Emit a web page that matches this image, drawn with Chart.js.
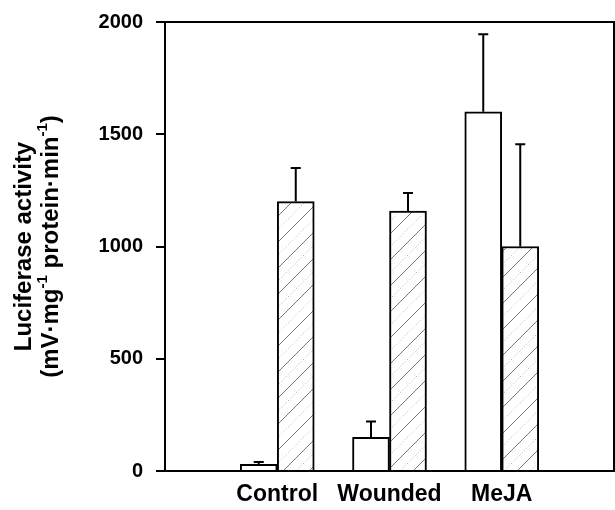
<!DOCTYPE html>
<html>
<head>
<meta charset="utf-8">
<script src="https://cdn.jsdelivr.net/npm/chart.js@4.4.1/dist/chart.umd.min.js"></script>
<style>
  html, body { margin: 0; padding: 0; background: #fff; }
  #wrap { width: 615px; height: 510px; }
</style>
</head>
<body>
<div id="wrap"><canvas id="grafico" width="615" height="510"></canvas></div>
<script>
// Dados
const categorias = ['Control', 'Wounded', 'MeJA'];
const valoresBrancos = [30, 150, 1600];
const errosBrancos = [10, 70, 345];
const valoresHachurados = [1200, 1158, 1000];
const errosHachurados = [150, 80, 455];
const ticksY = [0, 500, 1000, 1500, 2000];

const FONTE = "'Liberation Sans', Arial, sans-serif";

// categorias vazias nas pontas, como no original
const rotulos = [''].concat(categorias, ['']);
const pad = arr => [null].concat(arr, [null]);

// Padrão hachurado (linhas diagonais + pontilhado)
function criarHachura() {
    const s = 26;
    const c = document.createElement('canvas');
    c.width = s; c.height = s;
    const g = c.getContext('2d');
    g.fillStyle = '#fff';
    g.fillRect(0, 0, s, s);
    g.strokeStyle = '#777';
    g.lineWidth = 1;
    g.beginPath();
    g.moveTo(0, s); g.lineTo(s, 0);
    g.moveTo(-2, 2); g.lineTo(2, -2);
    g.moveTo(s - 2, s + 2); g.lineTo(s + 2, s - 2);
    g.stroke();
    g.strokeStyle = '#bbb';
    g.setLineDash([1, 2]);
    g.beginPath();
    g.moveTo(0, s / 2); g.lineTo(s / 2, 0);
    g.moveTo(s / 2, s); g.lineTo(s, s / 2);
    g.stroke();
    return g.createPattern(c, 'repeat');
}

// Barras de erro (só para cima)
const barrasErro = {
    id: 'barrasErro',
    afterDatasetsDraw(chart) {
        const ctx = chart.ctx;
        const y = chart.scales.y;
        const erros = [pad(errosBrancos), pad(errosHachurados)];
        ctx.save();
        ctx.strokeStyle = '#000';
        ctx.lineWidth = 2;
        chart.data.datasets.forEach((ds, i) => {
            const meta = chart.getDatasetMeta(i);
            meta.data.forEach((bar, j) => {
                const v = ds.data[j];
                const e = erros[i][j];
                if (v == null || e == null) return;
                const yTopo = y.getPixelForValue(v);
                const yErro = y.getPixelForValue(v + e);
                ctx.beginPath();
                ctx.moveTo(bar.x, yTopo);
                ctx.lineTo(bar.x, yErro);
                ctx.moveTo(bar.x - 5, yErro);
                ctx.lineTo(bar.x + 5, yErro);
                ctx.stroke();
            });
        });
        ctx.restore();
    }
};

// Moldura (topo e direita)
const moldura = {
    id: 'moldura',
    afterDraw(chart) {
        const { ctx, chartArea: a } = chart;
        ctx.save();
        ctx.strokeStyle = '#000';
        ctx.lineWidth = 2;
        ctx.beginPath();
        ctx.moveTo(a.left, a.top);
        ctx.lineTo(a.right, a.top);
        ctx.lineTo(a.right, a.bottom);
        ctx.stroke();
        ctx.restore();
    }
};

// Título do eixo Y com sobrescritos
const tituloY = {
    id: 'tituloY',
    afterDraw(chart) {
        const { ctx, chartArea: a } = chart;
        const cy = (a.top + a.bottom) / 2;
        const normal = 'bold 24px ' + FONTE;
        const sobre = 'bold 15px ' + FONTE;
        const linhas = [
            { x: a.left - 141, partes: [['Luciferase activity', false]] },
            { x: a.left - 114, partes: [['(mV\u00b7mg', false], ['-1', true], [' protein\u00b7min', false], ['-1', true], [')', false]] }
        ];
        ctx.save();
        ctx.fillStyle = '#000';
        ctx.textBaseline = 'middle';
        ctx.textAlign = 'left';
        linhas.forEach(l => {
            let total = 0;
            l.partes.forEach(p => {
                ctx.font = p[1] ? sobre : normal;
                total += ctx.measureText(p[0]).width;
            });
            ctx.save();
            ctx.translate(l.x, cy);
            ctx.rotate(-Math.PI / 2);
            let pos = -total / 2;
            l.partes.forEach(p => {
                ctx.font = p[1] ? sobre : normal;
                ctx.fillText(p[0], pos, p[1] ? -8 : 0);
                pos += ctx.measureText(p[0]).width;
            });
            ctx.restore();
        });
        ctx.restore();
    }
};

const ctx = document.getElementById('grafico').getContext('2d');
const grafico = new Chart(ctx, {
    type: 'bar',
    data: {
        labels: rotulos,
        datasets: [{
            label: 'Branco',
            data: pad(valoresBrancos),
            backgroundColor: '#fff',
            borderColor: '#000',
            borderWidth: 2,
            barThickness: 37
        }, {
            label: 'Hachurado',
            data: pad(valoresHachurados),
            backgroundColor: criarHachura(),
            borderColor: '#000',
            borderWidth: 2,
            barThickness: 37
        }]
    },
    options: {
        responsive: false,
        animation: false,
        devicePixelRatio: 1,
        layout: { padding: { top: 22, right: 1, bottom: 0, left: 0 } },
        plugins: {
            legend: { display: false },
            tooltip: { enabled: false }
        },
        scales: {
            x: {
                offset: false,
                afterFit(scale) { scale.paddingLeft = 0; scale.paddingRight = 0; },
                grid: { display: false, drawTicks: false },
                border: { display: true, color: '#000', width: 2 },
                ticks: {
                    color: '#000',
                    padding: 10,
                    maxRotation: 0,
                    autoSkip: false,
                    font: { family: FONTE, size: 23, weight: 'bold' }
                }
            },
            y: {
                min: 0,
                max: 2000,
                afterFit(scale) { scale.width = 165; scale.paddingTop = 0; scale.paddingBottom = 0; },
                afterBuildTicks(scale) { scale.ticks = ticksY.map(v => ({ value: v })); },
                grid: { drawOnChartArea: false, drawTicks: true, tickLength: 9, color: '#000', lineWidth: 2 },
                border: { display: true, color: '#000', width: 2 },
                ticks: {
                    color: '#000',
                    padding: 13,
                    callback: v => String(v),
                    font: { family: FONTE, size: 20, weight: 'bold' }
                }
            }
        }
    },
    plugins: [barrasErro, moldura, tituloY]
});

// ajuste fino da área do gráfico para bater com a figura
const alvo = { right: 614, bottom: 471 };
const area = grafico.chartArea;
const padd = grafico.options.layout.padding;
padd.right += area.right - alvo.right;
padd.bottom += area.bottom - alvo.bottom;
grafico.update();
</script>
</body>
</html>
